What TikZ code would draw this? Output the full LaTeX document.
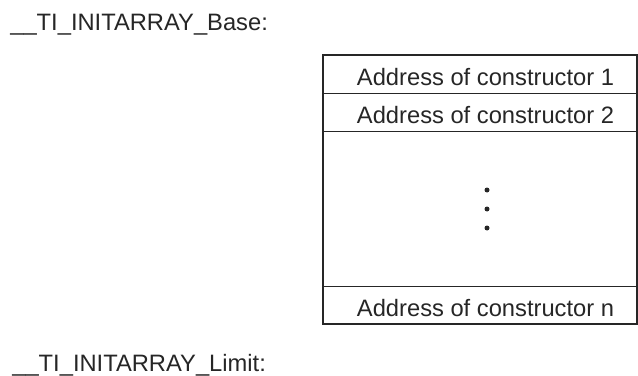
\documentclass[tikz,border=0pt]{standalone}
\usepackage{fontspec}
\setmainfont{Liberation Sans}
\begin{document}
\begin{tikzpicture}[x=0.02cm, y=-0.02cm, font=\fontsize{13.5}{16}\selectfont, black!85,
	entry/.style={anchor=base, inner sep=0pt},
	label/.style={anchor=base west, inner sep=0pt},
	dot/.style={circle, fill, inner sep=0pt, minimum size=0.1cm}]
	\useasboundingbox (0,0) rectangle (638,375);

	%symbols
	\node[label] (base) at (10, 31) {\_\_TI\_INITARRAY\_Base:};
	\node[label] (limit) at (12, 371) {\_\_TI\_INITARRAY\_Limit:};

	%table
	\draw[line width=1.1pt] (323, 55) rectangle (637, 324);
	\foreach \y in {93.5, 131.5, 286.5}{
		\draw[line width=0.75pt] (323, \y)--(637, \y);
	}

	\node[entry] (ctor1) at (485.5, 86) {Address of constructor 1};
	\node[entry] (ctor2) at (485.5, 123.3) {Address of constructor 2};
	\node[entry] (ctorn) at (485.5, 316) {Address of constructor n};

	\foreach \y [count=\i] in {190, 209, 228}{
		\node[dot] (dot\i) at (487, \y) {};
	}
\end{tikzpicture}
\end{document}
